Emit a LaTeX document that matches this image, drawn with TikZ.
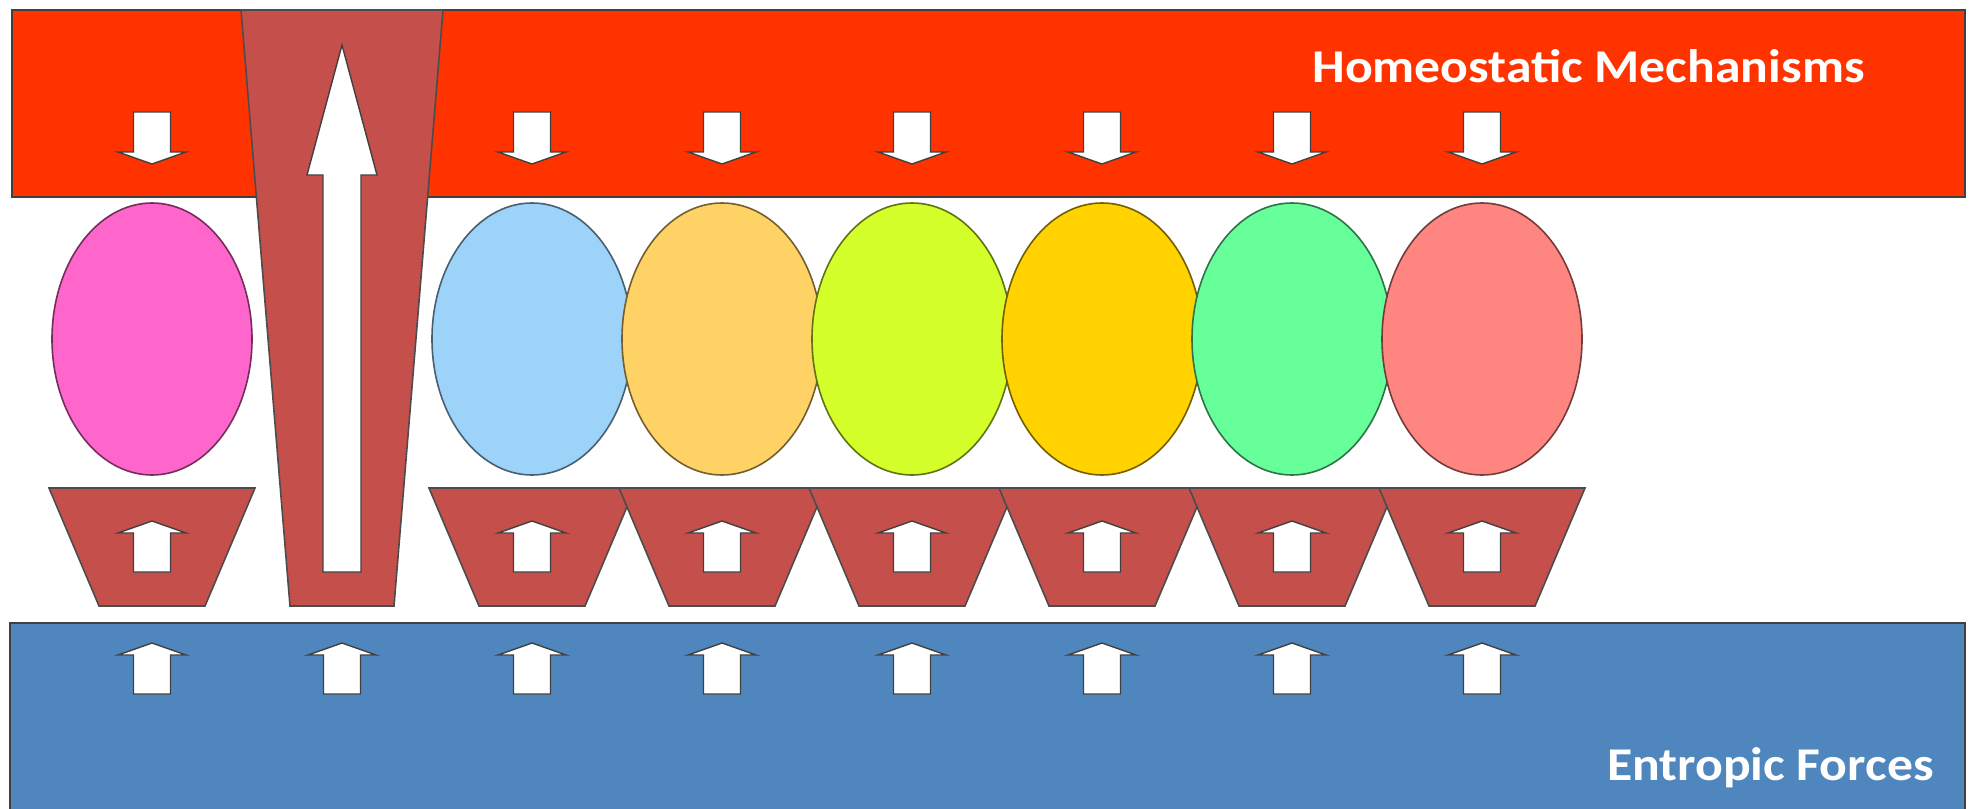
\documentclass[tikz,border=0pt]{standalone}
\usepackage{fontspec}
\setmainfont{Carlito}
\definecolor{homeo}{HTML}{FF3300}
\definecolor{brick}{HTML}{C5504B}
\definecolor{entro}{HTML}{4F86BD}
\definecolor{cpink}{HTML}{FF66CC}
\definecolor{cblue}{HTML}{9DD3F8}
\definecolor{corange}{HTML}{FFD265}
\definecolor{clime}{HTML}{D4FF2A}
\definecolor{cgold}{HTML}{FFD200}
\definecolor{cmint}{HTML}{66FF99}
\definecolor{csalmon}{HTML}{FF8580}
\tikzset{
  bar/.style={draw=black!75, line width=0.8pt},
  brickshape/.style={fill=brick, draw=black!70, line width=0.8pt},
  whitearrow/.style={fill=white, draw=black!75, line width=0.7pt},
  cell/.style={line width=0.8pt},
  label/.style={text=white, font=\bfseries\fontsize{23.5}{27}\selectfont, inner sep=0pt, xscale=1.1, transform shape},
  uparr/.pic={\path[whitearrow] (0,0) -- (34,12) -- (18.5,12) -- (18.5,51) -- (-18.5,51) -- (-18.5,12) -- (-34,12) -- cycle;},
  downarr/.pic={\path[whitearrow] (-18.5,0) -- (18.5,0) -- (18.5,40) -- (34,40) -- (0,52) -- (-34,40) -- (-18.5,40) -- cycle;}
}
\begin{document}
\begin{tikzpicture}[x=0.5pt, y=-0.5pt]
\useasboundingbox (0,0) rectangle (1969,808);
% bars
\path[bar, fill=homeo] (12,10) rectangle (1965,197);
\path[bar, fill=entro] (10,623) rectangle (1965,812);
% big column
\path[brickshape] (241,10) -- (443,10) -- (394,606) -- (290,606) -- cycle;
\path[whitearrow] (342,45) -- (377,175) -- (361,175) -- (361,572) -- (323,572) -- (323,175) -- (307,175) -- cycle;
% trapezoids and ellipses
\foreach \c/\col in {0/cpink,2/cblue,3/corange,4/clime,5/cgold,6/cmint,7/csalmon}{
  \pgfmathsetmacro{\cx}{152+190*\c}
  \path[brickshape] (\cx-103,488) -- (\cx+103,488) -- (\cx+53,606) -- (\cx-53,606) -- cycle;
}
\foreach \c/\col in {0/cpink,2/cblue,3/corange,4/clime,5/cgold,6/cmint,7/csalmon}{
  \pgfmathsetmacro{\cx}{152+190*\c}
  \path[cell, fill=\col, draw=\col!45!black] (\cx,339) ellipse [x radius=100, y radius=136];
  \pic at (\cx,521) {uparr};
  \pic at (\cx,112) {downarr};
}
\foreach \c in {0,...,7}{
  \pgfmathsetmacro{\cx}{152+190*\c}
  \pic at (\cx,643) {uparr};
}
\node[label, anchor=base west] (hm) at (1312,83) {Homeostatic Mechanisms};
\node[label, anchor=base east] (ef) at (1934,780) {Entropic Forces};
\end{tikzpicture}
\end{document}
